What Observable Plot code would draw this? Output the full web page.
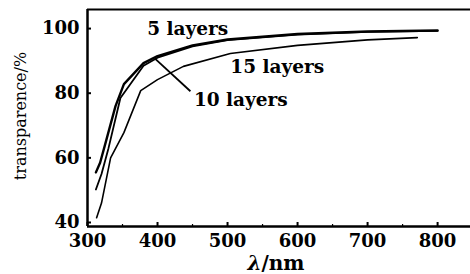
<!DOCTYPE html>
<html><head><meta charset="utf-8">
<script src="https://cdn.jsdelivr.net/npm/d3@7"></script>
<script src="https://cdn.jsdelivr.net/npm/@observablehq/plot@0.6"></script>
<style>
html,body{margin:0;padding:0;background:#fff;}
</style>
</head><body>
<div id="chart"></div>
<script>
// Data
const wl5  = [312, 318, 325, 340, 352, 380, 400, 450, 500, 600, 700, 800];
const t5   = [55.5, 58.5, 64, 76, 82.8, 89.3, 91.5, 94.8, 96.6, 98.3, 99.1, 99.4];
const wl10 = [312, 320, 330, 347, 380, 400, 450, 500, 600, 700, 800];
const t10  = [50.2, 55, 63, 78.5, 88.5, 91, 94.5, 96.4, 98.1, 99, 99.3];
const wl15 = [313, 320, 333, 352, 376, 400, 437, 504, 600, 700, 771];
const t15  = [41.5, 46, 60, 67.8, 80.8, 84.2, 88.3, 92.3, 94.8, 96.5, 97.2];

const xTicks = [300, 400, 500, 600, 700, 800];
const xMinor = [350, 450, 550, 650, 750];
const yTicks = [40, 60, 80, 100];
const xDomain = [300, 847];
const yDomain = [38.76, 105.9];

const labelText = ["5 layers", "15 layers", "10 layers"];
const labelX = [443, 571, 519];
const labelY = [99.7, 88.2, 78];
const leader = {x1: 396, y1: 90.8, x2: 447, y2: 80.6};

const series = [
  {name: "5 layers", wl: wl5, t: t5, sw: 2.4},
  {name: "10 layers", wl: wl10, t: t10, sw: 1.8},
  {name: "15 layers", wl: wl15, t: t15, sw: 1.6}
];
const marks = [];
for (const s of series) {
  const rows = s.wl.map((w, i) => ({x: w, y: s.t[i]}));
  marks.push(Plot.line(rows, {x: "x", y: "y", stroke: "#000", strokeWidth: s.sw, curve: "linear"}));
}
const labels = labelText.map((t, i) => ({t, x: labelX[i], y: labelY[i]}));

const fontSerif = "'DejaVu Serif', serif";

const chart = Plot.plot({
  width: 470,
  height: 274,
  marginLeft: 87,
  marginRight: 0,
  marginTop: 9,
  marginBottom: 48,
  style: {fontFamily: fontSerif, background: "#fff", color: "#000"},
  x: {domain: xDomain},
  y: {domain: yDomain},
  marks: [
    ...marks,
    Plot.link([leader], {x1: "x1", y1: "y1", x2: "x2", y2: "y2", stroke: "#000", strokeWidth: 1.8}),
    Plot.text(labels, {x: "x", y: "y", text: "t", fontSize: 18.5, fontWeight: "bold", fill: "#000", fontFamily: fontSerif}),
    Plot.ruleY([yDomain[1]], {stroke: "#000", strokeWidth: 2}),
    Plot.ruleX([xDomain[0]], {stroke: "#000", strokeWidth: 2.5}),
    Plot.ruleY([yDomain[0]], {stroke: "#000", strokeWidth: 2.5}),
    Plot.axisX(xMinor, {tickSize: -2, tickFormat: () => "", strokeWidth: 1.2}),
    Plot.axisX(xTicks, {tickSize: -4, tickPadding: 12, fontSize: 18, fontWeight: "bold", strokeWidth: 2, label: null, tickFormat: d => String(d)}),
    Plot.axisY(yTicks, {tickSize: -4, tickPadding: 12, fontSize: 18, fontWeight: "bold", strokeWidth: 2, label: null, tickFormat: d => String(d)})
  ]
});
chart.style.position = "absolute";
chart.style.left = "0px";
chart.style.top = "0px";
const wrap = document.getElementById("chart");
wrap.style.position = "relative";
wrap.style.width = "470px";
wrap.style.height = "274px";
wrap.appendChild(chart);

const yt = document.createElement("div");
yt.textContent = "transparence/%";
Object.assign(yt.style, {position: "absolute", left: "20px", top: "116px", transform: "translate(-50%,-50%) rotate(-90deg)", font: "16px " + fontSerif, whiteSpace: "nowrap", color: "#000"});
wrap.appendChild(yt);

const xt = document.createElement("div");
xt.innerHTML = "<i>λ</i>/nm";
Object.assign(xt.style, {position: "absolute", left: "276px", top: "263px", transform: "translate(-50%,-50%)", font: "bold 20px " + fontSerif, whiteSpace: "nowrap", color: "#000"});
wrap.appendChild(xt);
</script>
</body></html>
